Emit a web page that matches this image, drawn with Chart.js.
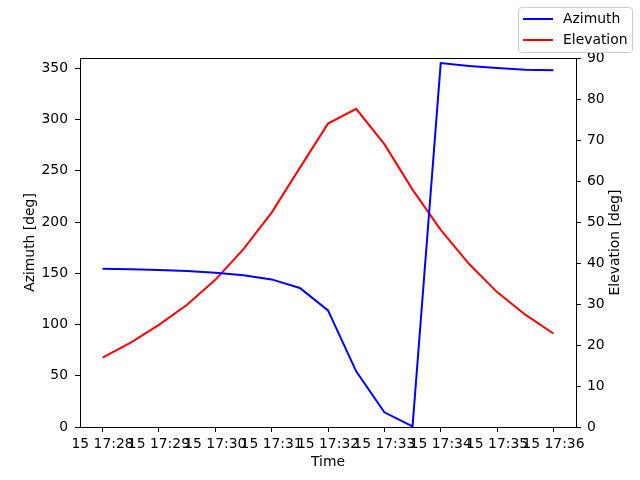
<!DOCTYPE html>
<html>
<head>
<meta charset="utf-8">
<script src="https://cdn.jsdelivr.net/npm/chart.js@4"></script>
<style>
  body { margin: 0; background: #fff; }
  #wrap { width: 640px; height: 480px; }
</style>
</head>
<body>
<div id="wrap"><canvas id="myChart" width="640" height="480"></canvas></div>
<script>
// pass samples, every 30 s
let times = ["17:28:00","17:28:30","17:29:00","17:29:30","17:30:00","17:30:30","17:31:00","17:31:30",
             "17:32:00","17:32:30","17:33:00","17:33:30","17:34:00","17:34:30","17:35:00","17:35:30","17:36:00"];
let azimuth = [154.4, 154.0, 153.1, 152.2, 150.5, 148.0, 144.0, 135.6,
               113.8, 54.3, 14.3, 0.6, 355.0, 352.3, 350.2, 348.6, 348.0];
let elevation = [16.9, 20.6, 24.9, 29.8, 35.9, 43.4, 52.3, 63.2,
                 74.0, 77.6, 69.0, 57.9, 48.1, 39.8, 32.9, 27.4, 22.8];
let timeTicks = ["15 17:28","15 17:29","15 17:30","15 17:31","15 17:32","15 17:33","15 17:34","15 17:35","15 17:36"];
let azTicks = [0, 50, 100, 150, 200, 250, 300, 350];
let elTicks = [0, 10, 20, 30, 40, 50, 60, 70, 80, 90];

// minutes since 17:28
let toMin = (s) => {
    let p = s.split(':').map(Number);
    return (p[0] - 17) * 60 + p[1] - 28 + (p[2] || 0) / 60;
}
let tickMin = timeTicks.map(t => toMin(t.split(' ')[1]));

const FONT = { family: 'DejaVu Sans', size: 13.9 };

// box around the plot, axis titles, figure legend
let framePlugin = {
    id: 'frame',
    afterDraw(chart) {
        let c = chart.ctx, a = chart.chartArea;
        c.save();
        c.strokeStyle = '#000';
        c.lineWidth = 1;
        c.strokeRect(Math.round(a.left) + 0.5, Math.round(a.top) + 0.5,
                     Math.round(a.right - a.left), Math.round(a.bottom - a.top));

        // axis titles (both vertical ones read bottom-to-top, like matplotlib)
        c.font = '13.9px "DejaVu Sans"';
        c.fillStyle = '#000';
        c.textAlign = 'center';
        c.textBaseline = 'middle';
        let midY = (a.top + a.bottom) / 2;
        c.fillText('Time', (a.left + a.right) / 2, 462);
        [['Azimuth [deg]', 30], ['Elevation [deg]', 615]].forEach(t => {
            c.save();
            c.translate(t[1], midY);
            c.rotate(-Math.PI / 2);
            c.fillText(t[0], 0, 0);
            c.restore();
        });

        // legend
        let x = 518.5, y = 7.5, w = 114, h = 45, r = 3;
        c.beginPath();
        c.roundRect(x, y, w, h, r);
        c.fillStyle = 'rgba(255,255,255,0.8)';
        c.fill();
        c.strokeStyle = '#cccccc';
        c.stroke();
        let items = [['Azimuth', 'blue', 19], ['Elevation', 'red', 40]];
        c.textAlign = 'left';
        items.forEach(it => {
            c.beginPath();
            c.strokeStyle = it[1];
            c.lineWidth = 2;
            c.moveTo(523, it[2]);
            c.lineTo(553, it[2]);
            c.stroke();
            c.fillStyle = '#000';
            c.fillText(it[0], 563, it[2]);
        });
        c.restore();
    }
}

let newChart = () => {
    let ctx = document.getElementById('myChart').getContext('2d');
    let chart = new Chart(ctx, {
        type: 'line',
        data: {
            datasets: [{
                label: 'Azimuth',
                data: times.map((t, i) => ({ x: toMin(t), y: azimuth[i] })),
                borderColor: 'blue',
                borderWidth: 2,
                pointRadius: 0,
                tension: 0,
                yAxisID: 'y'
            }, {
                label: 'Elevation',
                data: times.map((t, i) => ({ x: toMin(t), y: elevation[i] })),
                borderColor: 'red',
                borderWidth: 2,
                pointRadius: 0,
                tension: 0,
                yAxisID: 'y1'
            }]
        },
        options: {
            responsive: false,
            animation: false,
            devicePixelRatio: 1,
            layout: { padding: { top: 58, left: 0, right: 0, bottom: 0 } },
            plugins: { legend: { display: false }, tooltip: { enabled: false } },
            scales: {
                x: {
                    type: 'linear',
                    min: -0.4, max: 8.4,
                    afterBuildTicks: (s) => { s.ticks = tickMin.map(v => ({ value: v })); },
                    afterFit: (s) => { s.height = 53; },
                    border: { display: false },
                    grid: { drawOnChartArea: false, color: '#000', tickLength: 5 },
                    ticks: {
                        autoSkip: false, maxRotation: 0, color: '#000', font: FONT, padding: 4,
                        callback: (v) => timeTicks[tickMin.indexOf(v)]
                    }
                },
                y: {
                    position: 'left',
                    min: 0, max: 360,
                    afterBuildTicks: (s) => { s.ticks = azTicks.map(v => ({ value: v })); },
                    afterFit: (s) => { s.width = 80; },
                    border: { display: false },
                    grid: { drawOnChartArea: false, color: '#000', tickLength: 5 },
                    ticks: { color: '#000', font: FONT, padding: 7 }
                },
                y1: {
                    position: 'right',
                    min: 0, max: 90,
                    afterBuildTicks: (s) => { s.ticks = elTicks.map(v => ({ value: v })); },
                    afterFit: (s) => { s.width = 64; },
                    border: { display: false },
                    grid: { drawOnChartArea: false, color: '#000', tickLength: 5 },
                    ticks: { color: '#000', font: FONT, padding: 6 }
                }
            }
        },
        plugins: [framePlugin]
    });
}

newChart();
</script>
</body>
</html>
